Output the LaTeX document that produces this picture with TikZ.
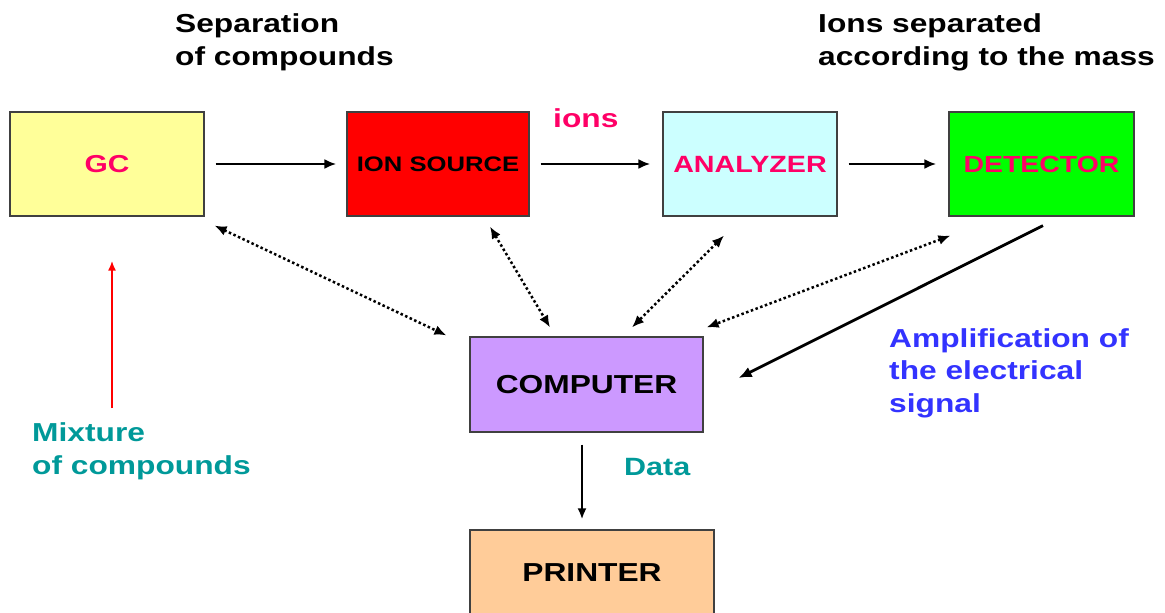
\documentclass[tikz,border=0pt]{standalone}
\usepackage{fontspec}
\setmainfont{Liberation Sans}[FakeStretch=1.22]
\usetikzlibrary{arrows.meta,calc}
\definecolor{pinkred}{HTML}{FF0066}
\definecolor{teal}{HTML}{009999}
\definecolor{ampblue}{HTML}{3333FF}
\definecolor{gcfill}{HTML}{FFFF99}
\definecolor{anafill}{HTML}{CCFFFF}
\definecolor{detfill}{HTML}{00FF00}
\definecolor{compfill}{HTML}{CC99FF}
\definecolor{prfill}{HTML}{FFCC99}
\tikzset{
  unitbox/.style={draw=black!75, line width=1.2pt, inner sep=0pt, font=\bfseries},
  flow/.style={line width=2.6pt, -{Latex[length=12pt,width=10pt]}},
  link/.style={line width=2.5pt, dash pattern=on 2.5pt off 2.5pt, {Latex[length=12pt,width=10pt]}-{Latex[length=12pt,width=10pt]}},
  lbl/.style={anchor=base west, align=left, inner sep=0pt, font=\bfseries\fontsize{26}{33}\selectfont},
}
\begin{document}
\begin{tikzpicture}[x=1pt,y=-1pt]
\useasboundingbox (0,0) rectangle (1165,613);
\clip (0,0) rectangle (1165,613);
% boxes
\node[unitbox, fill=gcfill, minimum width=194pt, minimum height=104pt, text=pinkred, font=\bfseries\fontsize{24.5}{28}\selectfont] (gc) at (107,164) {GC};
\node[unitbox, fill=red, minimum width=182pt, minimum height=104pt, text=black, font=\bfseries\fontsize{21}{28}\selectfont] (ion) at (438,164) {ION SOURCE};
\node[unitbox, fill=anafill, minimum width=174pt, minimum height=104pt, text=pinkred, font=\bfseries\fontsize{23.5}{28}\selectfont] (ana) at (750,164) {ANALYZER};
\node[unitbox, fill=detfill, minimum width=185pt, minimum height=104pt, text=pinkred, font=\bfseries\fontsize{23.3}{28}\selectfont] (det) at (1041.5,164) {DETECTOR};
\node[unitbox, fill=compfill, minimum width=233pt, minimum height=95pt, text=black, font=\bfseries\fontsize{26}{30}\selectfont] (comp) at (586.5,384.5) {COMPUTER};
\node[unitbox, fill=prfill, minimum width=244pt, minimum height=86pt, text=black, font=\bfseries\fontsize{26}{30}\selectfont] (printer) at (592,573) {PRINTER};
% labels
\node[lbl] (sep) at (175,65) {Separation\\of compounds};
\node[lbl] (ionsep) at (818,65) {Ions separated\\according to the mass};
\node[lbl, text=pinkred] (ionslbl) at (553,127) {ions};
\node[lbl, text=teal] (mix) at (32,474) {Mixture\\of compounds};
\node[lbl, text=teal, font=\bfseries\fontsize{25}{33}\selectfont] (data) at (624,475) {Data};
\node[lbl, text=ampblue, font=\bfseries\fontsize{26}{32.5}\selectfont] (amp) at (889,412) {Amplification of\\the electrical\\signal};
% main flow
\draw[flow, shorten <=11pt, shorten >=10pt] (gc.east) -- (ion.west);
\draw[flow, shorten <=11pt, shorten >=12pt] (ion.east) -- (ana.west);
\draw[flow, shorten <=11pt, shorten >=12pt] (ana.east) -- (det.west);
% control links
\draw[link] ($(gc.south east)+(10,9)$) -- ($(comp.north west)+(-23,-1)$);
\draw[link] ($(ion.south)+(52,10)$) -- ($(comp.north)+(-36.5,-9)$);
\draw[link] ($(ana.south)+(-26,19)$) -- ($(comp.north)+(45.5,-9)$);
\draw[link] ($(det.south west)+(2,19)$) -- ($(comp.north east)+(3,-9)$);
% signal
\draw[line width=2.8pt, -{Latex[length=13pt,width=11pt]}] ($(det.south)+(1.5,9)$) -- ($(comp.east)+(35,-6.5)$);
% sample inlet
\coordinate (mixtail) at (112,408);
\draw[red, line width=2.2pt, -{Latex[length=10pt,width=8pt]}] (mixtail) -- ($(gc.south)+(5,44)$);
% data output
\draw[line width=2.2pt, -{Latex[length=11pt,width=9pt]}] ($(comp.south)+(-4.5,12)$) -- ($(printer.north)+(-10,-10)$);
\end{tikzpicture}
\end{document}
